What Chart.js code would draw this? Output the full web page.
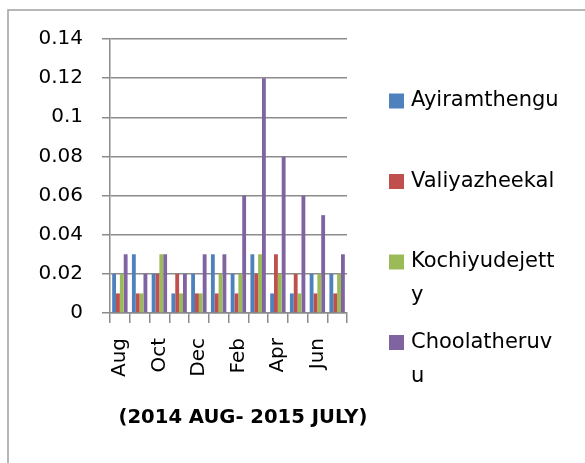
<!DOCTYPE html>
<html>
<head>
<meta charset="utf-8">
<script src="https://cdn.jsdelivr.net/npm/chart.js@4/dist/chart.umd.min.js"></script>
<style>
  body { margin: 0; background: #fff; }
  canvas { display: block; }
</style>
</head>
<body>
<canvas id="chart" width="585" height="463"></canvas>
<script>
// Meses (ago 2014 - jul 2015)
const months = ['Aug', 'Sep', 'Oct', 'Nov', 'Dec', 'Jan', 'Feb', 'Mar', 'Apr', 'May', 'Jun', 'Jul'];

// Valores por estación
const ayiramthengu = [0.02, 0.03, 0.02, 0.01, 0.02, 0.03, 0.02, 0.03, 0.01, 0.01, 0.02, 0.02];
const valiyazheekal = [0.01, 0.01, 0.02, 0.02, 0.01, 0.01, 0.01, 0.02, 0.03, 0.02, 0.01, 0.01];
const kochiyudejetty = [0.02, 0.01, 0.03, 0.01, 0.01, 0.02, 0.02, 0.03, 0.02, 0.01, 0.02, 0.02];
const choolatheruvu = [0.03, 0.02, 0.03, 0.02, 0.03, 0.03, 0.06, 0.12, 0.08, 0.06, 0.05, 0.03];

// Eje Y
const yTicks = [0, 0.02, 0.04, 0.06, 0.08, 0.1, 0.12, 0.14];

// Texto de la leyenda tal como aparece partido en líneas
const legendLines = [['Ayiramthengu'], ['Valiyazheekal'], ['Kochiyudejett', 'y'], ['Choolatheruv', 'u']];
const axisCaption = '(2014 AUG- 2015 JULY)';

const gridColor = '#8c8c8c';
const font = 'DejaVu Sans';

// Marco, leyenda y título del eje dibujados a mano
const decorPlugin = {
  id: 'decor',
  beforeDraw(chart) {
    const ctx = chart.ctx;
    ctx.save();
    ctx.fillStyle = '#fff';
    ctx.fillRect(0, 0, chart.width, chart.height);
    ctx.strokeStyle = '#a0a0a0';
    ctx.lineWidth = 1.5;
    ctx.strokeRect(8, 10, 700, 600);
    ctx.restore();
  },
  afterDraw(chart) {
    const ctx = chart.ctx;
    ctx.save();
    ctx.textBaseline = 'middle';
    ctx.textAlign = 'left';
    ctx.font = '21px "' + font + '"';
    chart.data.datasets.forEach((ds, i) => {
      const y = 101 + i * 80.5;
      ctx.fillStyle = ds.backgroundColor;
      ctx.fillRect(389, y - 7.5, 15, 15);
      ctx.fillStyle = '#000';
      legendLines[i].forEach((line, j) => {
        ctx.fillText(line, 411, y + j * 34);
      });
    });
    ctx.font = 'bold 19.6px "' + font + '"';
    ctx.textAlign = 'center';
    ctx.fillText(axisCaption, 243, 418);
    ctx.restore();
  }
};

new Chart(document.getElementById('chart'), {
  type: 'bar',
  data: {
    labels: months,
    datasets: [
      { label: 'Ayiramthengu', data: ayiramthengu, backgroundColor: '#4F81BD' },
      { label: 'Valiyazheekal', data: valiyazheekal, backgroundColor: '#C0504D' },
      { label: 'Kochiyudejetty', data: kochiyudejetty, backgroundColor: '#9BBB59' },
      { label: 'Choolatheruvu', data: choolatheruvu, backgroundColor: '#8064A2' }
    ]
  },
  options: {
    responsive: false,
    animation: false,
    devicePixelRatio: 1,
    categoryPercentage: 0.78,
    barPercentage: 1,
    layout: { padding: { left: 0, top: 39, right: 238, bottom: 0 } },
    plugins: {
      legend: { display: false },
      tooltip: { enabled: false }
    },
    scales: {
      x: {
        afterFit(scale) { scale.height = 150; },
        grid: {
          offset: true,
          drawOnChartArea: false,
          drawTicks: true,
          tickLength: 10,
          color: gridColor,
          lineWidth: 1.5
        },
        border: { display: true, color: gridColor, width: 1.5 },
        ticks: {
          autoSkip: false,
          minRotation: 90,
          maxRotation: 90,
          padding: 15,
          color: '#000',
          font: { family: font, size: 20 },
          callback: (v, i) => (i % 2 === 0 ? months[i] : '')
        }
      },
      y: {
        min: 0,
        max: 0.14,
        afterFit(scale) { scale.width = 110; },
        afterBuildTicks(scale) { scale.ticks = yTicks.map(v => ({ value: v })); },
        grid: {
          color: gridColor,
          lineWidth: 1.5,
          drawTicks: true,
          tickLength: 8
        },
        border: { display: true, color: gridColor, width: 1.5 },
        ticks: {
          padding: 19,
          color: '#000',
          font: { family: font, size: 20 },
          callback: v => String(v)
        }
      }
    }
  },
  plugins: [decorPlugin]
});
</script>
</body>
</html>
